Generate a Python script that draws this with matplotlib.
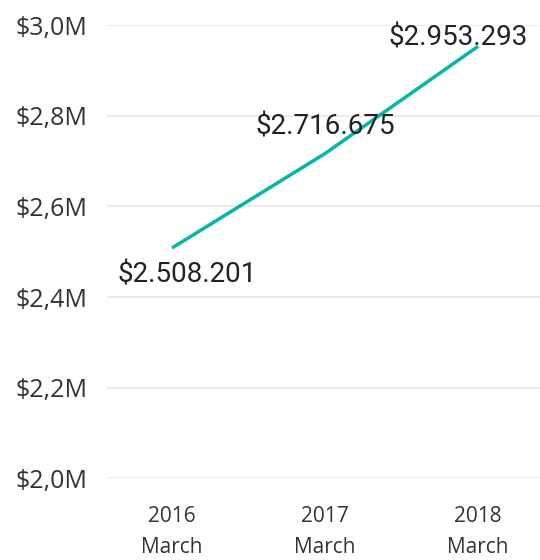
import matplotlib.pyplot as plt
from matplotlib.ticker import FuncFormatter

years = ['2016', '2017', '2018']
months = ['March', 'March', 'March']
sales = [2508201, 2716675, 2953293]
y_ticks = [2.0e6, 2.2e6, 2.4e6, 2.6e6, 2.8e6, 3.0e6]


def fmt_millions(v, pos=None):
    return '$' + f'{v / 1e6:.1f}'.replace('.', ',') + 'M'


def fmt_dots(v):
    return '$' + f'{v:,.0f}'.replace(',', '.')


fig = plt.figure(figsize=(5.4, 5.6), dpi=100)
ax = fig.add_axes([0.198, 0.146, 0.802, 0.809])

x = list(range(len(years)))
ax.plot(x, sales, color='#01B8AA', linewidth=2.5, solid_capstyle='butt', zorder=3)

ax.set_ylim(2.0e6, 3.0e6)
ax.set_xlim(-0.425, 2.405)
ax.set_yticks(y_ticks)
ax.yaxis.set_major_formatter(FuncFormatter(fmt_millions))
ax.set_xticks(x)
ax.set_xticklabels([f'{y}\n{m}' for y, m in zip(years, months)])

ax.grid(axis='y', color='#E8E8E8', linewidth=1.2)
ax.set_axisbelow(True)
for s in ax.spines.values():
    s.set_visible(False)
ax.tick_params(length=0)
ax.tick_params(axis='y', labelsize=18, labelcolor='#333333', pad=14)
ax.tick_params(axis='x', labelsize=15, labelcolor='#333333', pad=20)
for lab in ax.get_yticklabels() + ax.get_xticklabels():
    lab.set_family('Open Sans')
for lab in ax.get_xticklabels():
    lab.set_linespacing(1.6)

# data labels: (dx, dy) offsets in points
offsets = [(11, -19.5), (0, 19), (-14, 6)]
for xi, v, (dx, dy) in zip(x, sales, offsets):
    ax.annotate(fmt_dots(v), (xi, v), xytext=(dx, dy), textcoords='offset points',
                ha='center', va='center', fontsize=20, color='#222222',
                family='Roboto', zorder=4)

fig.savefig('out.png', dpi=100)
